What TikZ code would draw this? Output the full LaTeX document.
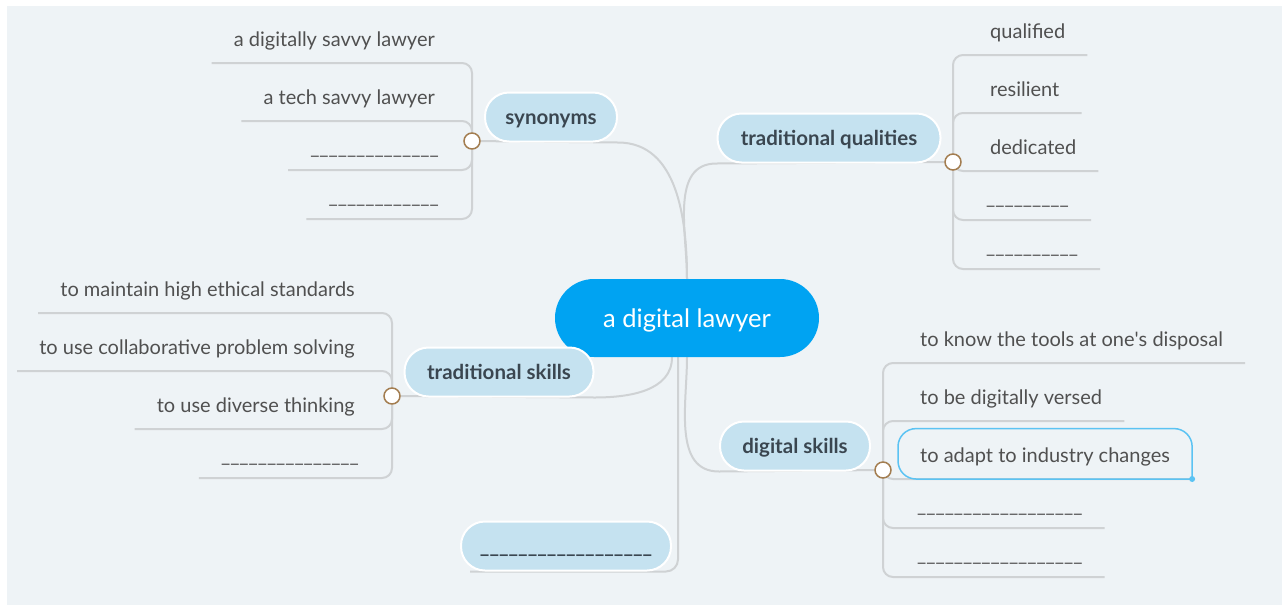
\documentclass[tikz,border=0pt]{standalone}
\usepackage{fontspec}
\setmainfont{Lato}
\usetikzlibrary{positioning}
\definecolor{panel}{HTML}{EEF3F6}
\definecolor{rootblue}{HTML}{00A3F2}
\definecolor{topicblue}{HTML}{C5E2F0}
\definecolor{topictext}{HTML}{3A4650}
\definecolor{leaftext}{HTML}{505050}
\definecolor{linegrey}{HTML}{CFD2D4}
\definecolor{knobbrown}{HTML}{A37D50}
\definecolor{hlblue}{HTML}{5BC3F3}
\newcommand{\fillin}[1]{\foreach \k in {1,...,#1}{\_}}
\pgfdeclarelayer{bg}
\pgfdeclarelayer{edges}
\pgfsetlayers{bg,edges,main}

\begin{document}
\begin{tikzpicture}[x=1pt,y=-1pt,
	root/.style={rectangle, rounded corners=39pt, fill=rootblue, text=white,
		font=\fontsize{25.5}{30}\selectfont, text height=19pt, text depth=0pt,
		minimum width=264pt, minimum height=78pt},
	topic/.style={rectangle, rounded corners=24pt, fill=topicblue, draw=white, line width=2pt,
		text=topictext, font=\fontsize{20.5}{24}\selectfont\bfseries,
		text height=14pt, text depth=0pt, minimum height=49pt},
	leaf/.style={text=leaftext, font=\fontsize{20}{24}\selectfont, inner xsep=22pt,
		inner ysep=12pt, text height=15pt, text depth=4pt},
	gap/.style={leaf, inner ysep=11pt},
	knob/.style={circle, fill=white, draw=knobbrown, line width=1.5pt, minimum size=16pt, inner sep=0pt},
	branch/.style={draw=linegrey, line width=2pt},
	twig/.style={branch, rounded corners=10pt}]
	\begin{pgfonlayer}{bg}
	\fill[white] (0,0) rectangle (1288,606);
	\fill[panel] (7,6) rectangle (1282,605);
	\end{pgfonlayer}
	% centre and topics
	\node[root] (lawyer) at (687,318) {a digital lawyer};
	\node[topic, minimum width=132pt] (syn) at (551,117) {synonyms};
	\node[topic, minimum width=223pt] (tq) at (829,138) {traditional qualities};
	\node[topic, minimum width=189pt] (ts) at (499,372) {traditional skills};
	\node[topic, minimum width=150pt] (ds) at (795,446) {digital skills};
	\node[topic, minimum width=210pt] (more) at (566,546) {\fillin{18}};
	\node[knob] (synk) at (472,141) {};
	\node[knob] (tqk) at (953,162) {};
	\node[knob] (tsk) at (392,396) {};
	\node[knob] (dsk) at (883,470) {};
	% synonyms
	\node[leaf, anchor=south east] (s1) at (457,63) {a digitally savvy lawyer};
	\node[leaf, anchor=south east] (s2) at (457,121) {a tech savvy lawyer};
	\node[gap, anchor=south east] (s3) at (461,170) {\fillin{14}};
	\node[gap, anchor=south east] (s4) at (461,219) {\fillin{12}};
	% traditional qualities
	\node[leaf, anchor=south west] (q1) at (968,55) {qualified};
	\node[leaf, anchor=south west] (q2) at (968,113) {resilient};
	\node[leaf, anchor=south west] (q3) at (968,171) {dedicated};
	\node[gap, anchor=south west] (q4) at (964,220) {\fillin{9}};
	\node[gap, anchor=south west] (q5) at (964,269) {\fillin{10}};
	% traditional skills
	\node[leaf, anchor=south east] (t1) at (377,313) {to maintain high ethical standards};
	\node[leaf, anchor=south east] (t2) at (377,371) {to use collaborative problem solving};
	\node[leaf, anchor=south east] (t3) at (377,429) {to use diverse thinking};
	\node[gap, anchor=south east] (t4) at (381,478) {\fillin{15}};
	% digital skills
	\node[leaf, anchor=south west] (d1) at (898,363) {to know the tools at one\textquotesingle s disposal};
	\node[leaf, anchor=south west] (d2) at (898,421) {to be digitally versed};
	\node[leaf, anchor=south west] (d3) at (898,479) {to adapt to industry changes};
	\node[gap, anchor=south west] (d4) at (895,528) {\fillin{18}};
	\node[gap, anchor=south west] (d5) at (895,577) {\fillin{18}};
	\draw[hlblue, line width=1.5pt] (d3.south east) [rounded corners=18pt] -- ([yshift=7pt]d3.north east)
		-- ([yshift=7pt]d3.north west) -- (d3.south west) -- ([xshift=1pt]d3.south east);
	\fill[hlblue] (d3.south east) circle (3pt);
	% connectors
	\begin{pgfonlayer}{edges}
	\draw[branch] (lawyer.north) to[out=90,in=0] (syn.south east) -- (synk);
	\draw[branch] (lawyer.north) to[out=90,in=180] (tq.south west) -- (tqk);
	\draw[branch] ([xshift=-15pt]lawyer.south) to[out=-90,in=0] (ts.south east) -- (tsk);
	\draw[branch] (lawyer.south) to[out=-90,in=180] (ds.south west) -- (dsk);
	\draw[branch, rounded corners=12pt] ([xshift=-9pt]lawyer.south) |- ([xshift=10pt]more.south west);
	\foreach \n in {s1,s2,s3,s4} \draw[twig] (synk) |- (\n.south west);
	\foreach \n in {q1,q2,q3,q4,q5} \draw[twig] (tqk) |- (\n.south east);
	\foreach \n in {t1,t2,t3,t4} \draw[twig] (tsk) |- (\n.south west);
	\foreach \n in {d1,d2,d3,d4,d5} \draw[twig] (dsk) |- (\n.south east);
	\end{pgfonlayer}
	\useasboundingbox (0,0) rectangle (1288,606);
\end{tikzpicture}
\end{document}
